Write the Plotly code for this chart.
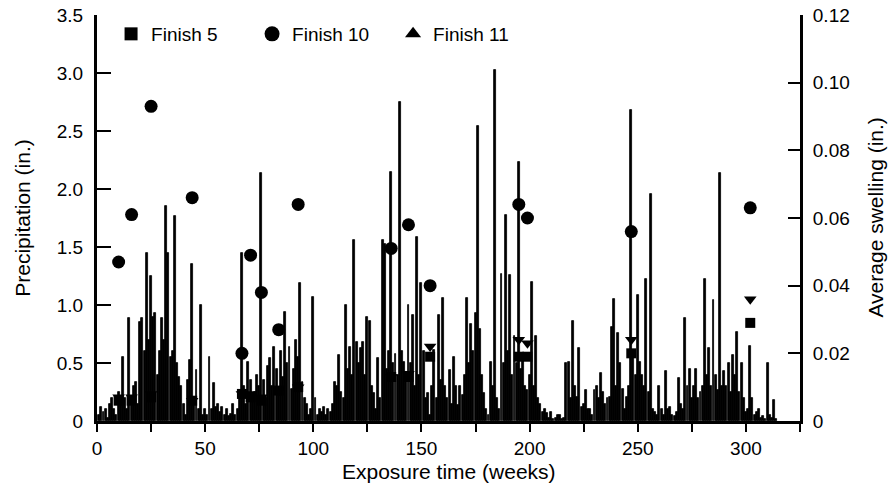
import plotly.graph_objects as go

# Weekly precipitation (in.), weeks 1..314
precip = [
    0.05, 0.12, 0.08, 0.10, 0.03, 0.15, 0.20, 0.10, 0.05, 0.25,
    0.15, 0.55, 0.20, 0.10, 0.89, 0.20, 0.30, 0.34, 0.15, 0.85,
    0.89, 0.60, 1.45, 0.70, 1.25, 0.90, 0.93, 0.40, 0.60, 0.89,
    0.70, 1.85, 1.45, 0.55, 0.60, 1.77, 0.50, 0.38, 0.30, 0.15,
    0.05, 0.35, 0.53, 1.35, 0.20, 0.44, 0.10, 1.00, 0.05, 0.10,
    0.05, 0.55, 0.10, 0.33, 0.12, 0.15, 0.08, 0.12, 0.05, 0.10,
    0.04, 0.06, 0.15, 0.05, 0.10, 0.20, 1.45, 0.30, 0.15, 0.51,
    0.35, 0.20, 0.25, 0.40, 0.30, 2.14, 0.35, 0.20, 0.47, 0.54,
    0.30, 0.64, 0.45, 0.25, 0.60, 0.38, 0.94, 0.50, 0.64, 0.28,
    0.45, 0.70, 0.55, 1.19, 0.34, 0.20, 0.15, 0.05, 0.10, 1.07,
    0.20, 0.05, 0.10, 0.08, 0.12, 0.05, 0.10, 0.08, 0.15, 0.34,
    0.30, 0.57, 0.25, 0.20, 1.00, 0.45, 0.64, 0.40, 1.56, 0.68,
    0.50, 0.63, 0.68, 0.40, 0.90, 0.86, 0.30, 0.24, 0.10, 0.54,
    0.20, 1.56, 1.53, 0.45, 0.60, 2.15, 0.50, 0.58, 0.40, 2.75,
    0.60, 0.51, 0.35, 1.00, 0.50, 0.91, 0.30, 1.59, 0.40, 1.19,
    0.60, 0.20, 0.24, 0.05, 0.30, 0.61, 0.20, 0.91, 0.35, 1.06,
    0.30, 0.20, 0.44, 0.15, 0.55, 0.30, 0.14, 0.30, 0.22, 0.40,
    1.06, 0.50, 0.84, 0.60, 0.93, 2.54, 0.79, 0.40, 0.24, 0.10,
    0.05, 0.51, 0.30, 3.03, 0.20, 0.10, 1.27, 0.50, 1.78, 0.60,
    1.26, 0.40, 0.73, 0.50, 2.23, 0.45, 0.58, 0.30, 0.27, 0.40,
    1.20, 0.30, 0.73, 0.20, 0.15, 0.08, 0.10, 0.07, 0.03, 0.08,
    0.02, 0.03, 0.05, 0.05, 0.02, 0.03, 0.50, 0.51, 0.20, 0.86,
    0.30, 0.21, 0.63, 0.12, 0.15, 0.27, 0.10, 0.10, 0.05, 0.27,
    0.30, 0.20, 0.41, 0.25, 0.15, 0.20, 0.21, 0.81, 1.05, 0.30,
    0.76, 0.50, 0.28, 0.10, 0.21, 0.30, 2.68, 0.60, 0.40, 1.09,
    0.51, 0.40, 0.30, 1.22, 0.25, 1.96, 0.10, 0.08, 0.05, 0.30,
    0.10, 0.05, 0.43, 0.10, 0.12, 0.05, 0.04, 0.08, 0.37, 0.15,
    0.10, 0.89, 0.30, 0.45, 0.20, 0.30, 0.45, 0.20, 0.25, 0.30,
    1.22, 0.40, 0.63, 0.30, 1.04, 0.40, 0.27, 2.14, 0.30, 0.43,
    0.30, 0.50, 0.25, 0.57, 0.40, 0.77, 0.25, 0.50, 0.20, 0.08,
    0.10, 0.65, 0.20, 0.05, 0.08, 0.10, 0.03, 0.04, 0.02, 0.50,
    0.05, 0.03, 0.18, 0.02,
]
weeks = list(range(1, len(precip) + 1))

# Swelling measurements (in.)
meas_weeks = [10, 16, 25, 44, 67, 71, 76, 84, 93, 136, 144, 154, 195, 199, 247, 302]
finish5 = [0.006, 0.006, 0.007, 0.006, 0.008, 0.007, 0.006, 0.009, 0.010,
           0.013, 0.013, 0.019, 0.019, 0.019, 0.020, 0.029]
finish10 = [0.047, 0.061, 0.093, 0.066, 0.020, 0.049, 0.038, 0.027, 0.064,
            0.051, 0.058, 0.040, 0.064, 0.060, 0.056, 0.063]
finish11 = [0.007, 0.007, 0.008, 0.006, 0.008, 0.008, 0.007, 0.009, 0.010,
            0.013, 0.014, 0.022, 0.024, 0.023, 0.024, 0.036]

series_names = ["Finish 5", "Finish 10", "Finish 11"]

left_ticks = [0, 0.5, 1.0, 1.5, 2.0, 2.5, 3.0, 3.5]
left_text = ["0", "0.5", "1.0", "1.5", "2.0", "2.5", "3.0", "3.5"]
right_ticks = [0, 0.02, 0.04, 0.06, 0.08, 0.10, 0.12]
right_text = ["0", "0.02", "0.04", "0.06", "0.08", "0.10", "0.12"]

FONT = "Liberation Sans, Arial, sans-serif"

fig = go.Figure()
fig.add_trace(go.Bar(x=weeks, y=precip, width=0.9,
                     marker=dict(color="black", line=dict(width=0.8, color="black")),
                     showlegend=False, yaxis="y"))
fig.add_trace(go.Scatter(x=meas_weeks, y=finish5, mode="markers", showlegend=False,
                         marker=dict(symbol="square", size=10, color="black"), yaxis="y2"))
fig.add_trace(go.Scatter(x=meas_weeks, y=finish10, mode="markers", showlegend=False,
                         marker=dict(symbol="circle", size=13, color="black"), yaxis="y2"))
fig.add_trace(go.Scatter(x=meas_weeks, y=finish11, mode="markers", showlegend=False,
                         marker=dict(symbol="triangle-down", size=11, color="black"), yaxis="y2"))
# legend entries
for nm, sym, sz in zip(series_names, ["square", "circle", "triangle-up"], [13, 15, 14]):
    fig.add_trace(go.Scatter(x=[None], y=[None], mode="markers", name=nm,
                             marker=dict(symbol=sym, size=sz, color="black"), yaxis="y2"))

fig.update_layout(
    width=888, height=488,
    margin=dict(l=97, r=88, t=15, b=67, autoexpand=False),
    paper_bgcolor="white", plot_bgcolor="white",
    font=dict(family=FONT, size=19, color="black"),
    bargap=0,
    showlegend=True,
    legend=dict(orientation="h", x=0.02, y=1.0, xanchor="left", yanchor="top",
                bgcolor="rgba(0,0,0,0)", entrywidth=96, itemsizing="trace",
                font=dict(size=19)),
    xaxis=dict(range=[0, 325], tickvals=[0, 50, 100, 150, 200, 250, 300],
               ticks="outside", ticklen=8, tickwidth=2, tickcolor="black",
               minor=dict(tickvals=[25, 75, 125, 175, 225, 275, 325], ticks="outside",
                          ticklen=8, tickwidth=2, tickcolor="black"),
               showline=True, linecolor="black", linewidth=3, showgrid=False, zeroline=False,
               automargin=False),
    yaxis=dict(range=[0, 3.5], tickvals=left_ticks, ticktext=left_text,
               ticks="inside", ticklen=14, tickwidth=2, tickcolor="black",
               showline=True, linecolor="black", linewidth=3, showgrid=False, zeroline=False,
               ticklabelstandoff=7, automargin=False),
    yaxis2=dict(range=[0, 0.12], tickvals=right_ticks, ticktext=right_text,
                overlaying="y", side="right",
                ticks="inside", ticklen=12, tickwidth=2, tickcolor="black",
                showline=True, linecolor="black", linewidth=3, showgrid=False, zeroline=False,
                ticklabelstandoff=6, automargin=False),
    annotations=[
        dict(text="Exposure time (weeks)", xref="paper", yref="paper", x=0.5, y=-0.125,
             xanchor="center", yanchor="middle", showarrow=False, font=dict(size=21)),
        dict(text="Precipitation (in.)", xref="paper", yref="paper", x=-0.107, y=0.5,
             xanchor="center", yanchor="middle", textangle=-90, showarrow=False,
             font=dict(size=21)),
        dict(text="Average swelling (in.)", xref="paper", yref="paper", x=1.106, y=0.5,
             xanchor="center", yanchor="middle", textangle=-90, showarrow=False,
             font=dict(size=21)),
    ],
)

fig.write_html("out.html")
